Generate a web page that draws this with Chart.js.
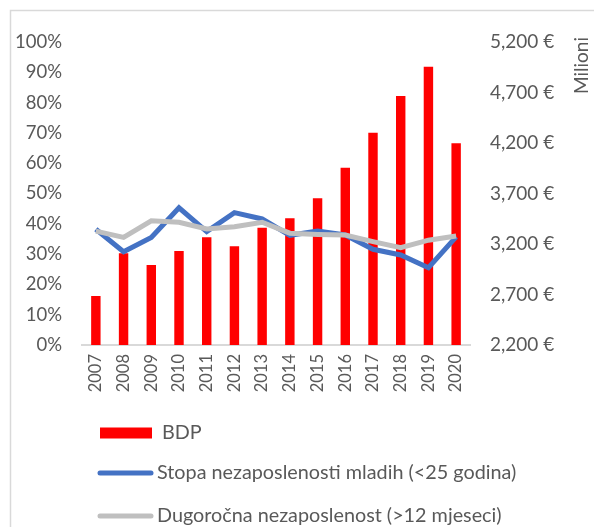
<!DOCTYPE html>
<html>
<head>
<meta charset="utf-8">
<script src="https://cdn.jsdelivr.net/npm/chart.js@4/dist/chart.umd.min.js"></script>
<style>
  html, body { margin: 0; padding: 0; background: #fff; }
  #wrap { width: 594px; height: 527px; position: relative; }
</style>
</head>
<body>
<div id="wrap"><canvas id="chart" width="594" height="527"></canvas></div>
<script>
const years = ['2007', '2008', '2009', '2010', '2011', '2012', '2013', '2014', '2015', '2016', '2017', '2018', '2019', '2020'];
// BDP, milijuni eura (desna os)
const bdp = [2685, 3108, 2992, 3131, 3266, 3177, 3362, 3454, 3652, 3955, 4302, 4665, 4955, 4197];
// stope u % (lijeva os)
const youthUnemp = [38.2, 30.8, 35.5, 45.3, 37.4, 43.7, 41.6, 36.2, 37.6, 36.3, 31.6, 29.7, 25.5, 35.7];
const longTermUnemp = [37.6, 35.5, 41.0, 40.5, 38.3, 39.0, 40.5, 36.9, 36.5, 36.3, 34.1, 32.1, 34.6, 36.0];
const labels = ['BDP', 'Stopa nezaposlenosti mladih (<25 godina)', 'Dugoročna nezaposlenost (>12 mjeseci)'];

const FONT = 'Lato, "Open Sans", sans-serif';
const TXT = '#595959';

const extras = {
  id: 'extras',
  afterDraw(chart) {
    const ctx = chart.ctx;
    ctx.save();
    // okvir
    ctx.strokeStyle = '#D9D9D9';
    ctx.lineWidth = 1.5;
    ctx.beginPath();
    ctx.moveTo(10.5, 527);
    ctx.lineTo(10.5, 10.5);
    ctx.lineTo(594, 10.5);
    ctx.stroke();

    // naslov desne osi
    ctx.fillStyle = TXT;
    ctx.font = '19px ' + FONT;
    ctx.translate(582, 37);
    ctx.rotate(-Math.PI / 2);
    ctx.textAlign = 'right';
    ctx.textBaseline = 'middle';
    ctx.fillText('Milioni', 0, 0);
    ctx.restore();

    // legenda: BDP, mladi, dugoročna
    ctx.save();
    ctx.font = '19.8px ' + FONT;
    ctx.textBaseline = 'middle';
    const ds = chart.data.datasets;
    const order = [2, 0, 1];
    const rows = [433, 473, 516];
    order.forEach((di, i) => {
      const d = ds[di];
      const y = rows[i];
      if (d.type === 'bar') {
        ctx.fillStyle = d.backgroundColor;
        ctx.fillRect(100, y - 5.5, 52, 11);
        ctx.fillStyle = TXT;
        ctx.fillText(d.label, 162, y);
      } else {
        ctx.strokeStyle = d.borderColor;
        ctx.lineWidth = 5;
        ctx.lineCap = 'round';
        ctx.beginPath();
        ctx.moveTo(100, y);
        ctx.lineTo(151, y);
        ctx.stroke();
        ctx.fillStyle = TXT;
        ctx.fillText(d.label, 157, y);
      }
    });
    ctx.restore();
  }
};

new Chart(document.getElementById('chart'), {
  data: {
    labels: years,
    datasets: [
      {
        type: 'line',
        label: labels[1],
        data: youthUnemp,
        yAxisID: 'yPct',
        borderColor: '#4472C4',
        borderWidth: 5,
        pointRadius: 0,
        tension: 0,
        order: 1
      },
      {
        type: 'line',
        label: labels[2],
        data: longTermUnemp,
        yAxisID: 'yPct',
        borderColor: '#BFBFBF',
        borderWidth: 5,
        pointRadius: 0,
        tension: 0,
        order: 0
      },
      {
        type: 'bar',
        label: labels[0],
        data: bdp,
        yAxisID: 'yEur',
        backgroundColor: '#FF0000',
        categoryPercentage: 1,
        barPercentage: 0.34,
        order: 2
      }
    ]
  },
  options: {
    responsive: false,
    animation: false,
    layout: { padding: { top: 42, bottom: 127, left: 0, right: 0 } },
    plugins: { legend: { display: false }, tooltip: { enabled: false } },
    scales: {
      x: {
        grid: { display: false, drawTicks: false },
        border: { display: true, color: '#D9D9D9', width: 2 },
        ticks: { color: TXT, font: { family: FONT, size: 16.5 }, minRotation: 90, maxRotation: 90, padding: 9 },
        afterFit(s) { s.height = 55; }
      },
      yPct: {
        position: 'left',
        min: 0, max: 100,
        grid: { display: false, drawTicks: false },
        border: { display: false },
        ticks: {
          stepSize: 10,
          color: TXT,
          font: { family: FONT, size: 18.5 },
          padding: 20,
          callback: v => v + '%'
        },
        afterFit(s) { s.width = 82; }
      },
      yEur: {
        position: 'right',
        min: 2200, max: 5200,
        grid: { display: false, drawTicks: false },
        border: { display: false },
        ticks: {
          stepSize: 500,
          color: TXT,
          font: { family: FONT, size: 19 },
          padding: 20,
          callback: v => v.toLocaleString('en-US') + ' €'
        },
        afterFit(s) { s.width = 124; }
      }
    }
  },
  plugins: [extras]
});
</script>
</body>
</html>
